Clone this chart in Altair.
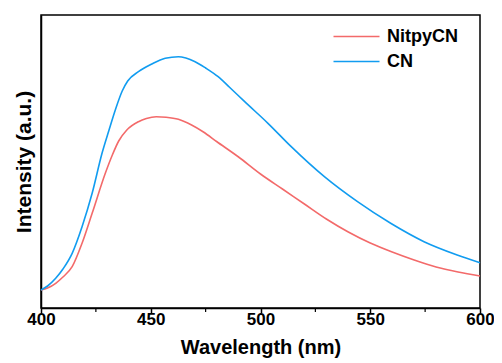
import altair as alt
import pandas as pd

# Wavelength (nm) and intensity (a.u.)
cn_wl = [400, 403, 406.7, 410, 414.2, 418.7, 423.3, 427.8, 431, 434, 437, 439.5, 444.4, 450.5,
         456.6, 462.6, 466, 470.2, 475, 480.7, 486, 492.8, 503.4, 514, 529.1, 544.2, 559.3,
         574.5, 589.6, 600]
cn_int = [18, 22, 29.7, 39, 54.7, 81.3, 114.7, 154.7, 178, 199, 217, 227, 236.3, 244,
          249.7, 251.3, 250, 246.3, 240, 231.3, 220.5, 206.3, 184.7, 161.3, 131.3, 106.3, 84.7,
          66.3, 53, 45.3]

nit_wl = [400, 403, 406.7, 410, 414.2, 418.7, 423.3, 429.3, 432.5, 435.4, 439.1, 444.4, 448,
          452.5, 457, 462.6, 468.6, 474, 480, 490, 500, 510, 520, 530, 540, 550, 560, 570,
          580, 590, 600]
nit_int = [18, 20, 24.7, 31, 41.3, 64.7, 94.7, 134.7, 153, 167, 178, 186.3, 189.5,
           191.3, 190.8, 188.7, 183, 176, 166.5, 151, 134, 119, 104, 89, 76, 65, 56, 48,
           41, 36, 32]

series_names = ["NitpyCN", "CN"]
series_colors = ["#F36A6A", "#119CF0"]

major_ticks = [400, 450, 500, 550, 600]
minor_ticks = [425, 475, 525, 575]

df = pd.concat([
    pd.DataFrame({"wl": nit_wl, "I": nit_int, "s": "NitpyCN"}),
    pd.DataFrame({"wl": cn_wl, "I": cn_int, "s": "CN"}),
])
minor_df = pd.DataFrame({"wl": minor_ticks})

FONT = "Liberation Sans"

x_scale = alt.Scale(domain=[400, 600], nice=False, zero=False)

lines = alt.Chart(df).mark_line(strokeWidth=1.6, interpolate="monotone").encode(
    x=alt.X("wl:Q", scale=x_scale,
            axis=alt.Axis(values=major_ticks, title="Wavelength (nm)", grid=False,
                          tickSize=5, tickWidth=1.5, tickColor="black",
                          domainColor="black", domainWidth=1.5,
                          labelFont=FONT, labelFontSize=17, labelFontWeight="bold",
                          labelColor="black", labelPadding=-2, labelFlush=False,
                          titleFont=FONT, titleFontSize=20, titleFontWeight="bold",
                          titleColor="black", titlePadding=10)),
    y=alt.Y("I:Q", scale=alt.Scale(domain=[0, 293], nice=False),
            axis=alt.Axis(title="Intensity (a.u.)", labels=False, ticks=False, grid=False,
                          domainColor="black", domainWidth=1.5,
                          titleFont=FONT, titleFontSize=21, titleFontWeight="bold",
                          titleColor="black", titlePadding=7)),
    color=alt.Color("s:N", scale=alt.Scale(domain=series_names, range=series_colors),
                    legend=alt.Legend(title=None, orient="none", legendX=303, legendY=9,
                                      symbolType="M-2,0L2,0", symbolSize=529,
                                      symbolStrokeWidth=1.6, rowPadding=3,
                                      labelFont=FONT, labelFontSize=18,
                                      labelFontWeight="bold", labelColor="black",
                                      labelOffset=18)),
)

minor = alt.Chart(minor_df).mark_rule(color="black", strokeWidth=1.2).encode(
    x=alt.X("wl:Q", scale=x_scale),
    y=alt.value(293),
    y2=alt.value(297),
)

chart = alt.layer(lines, minor).properties(
    width=439, height=293,
    autosize=alt.AutoSizeParams(type="none"),
    padding={"left": 33, "top": 7, "right": 14, "bottom": 54},
).configure_view(stroke="black", strokeWidth=1.5)

chart.save("out.html", embed_options={"renderer": "svg", "actions": False})
